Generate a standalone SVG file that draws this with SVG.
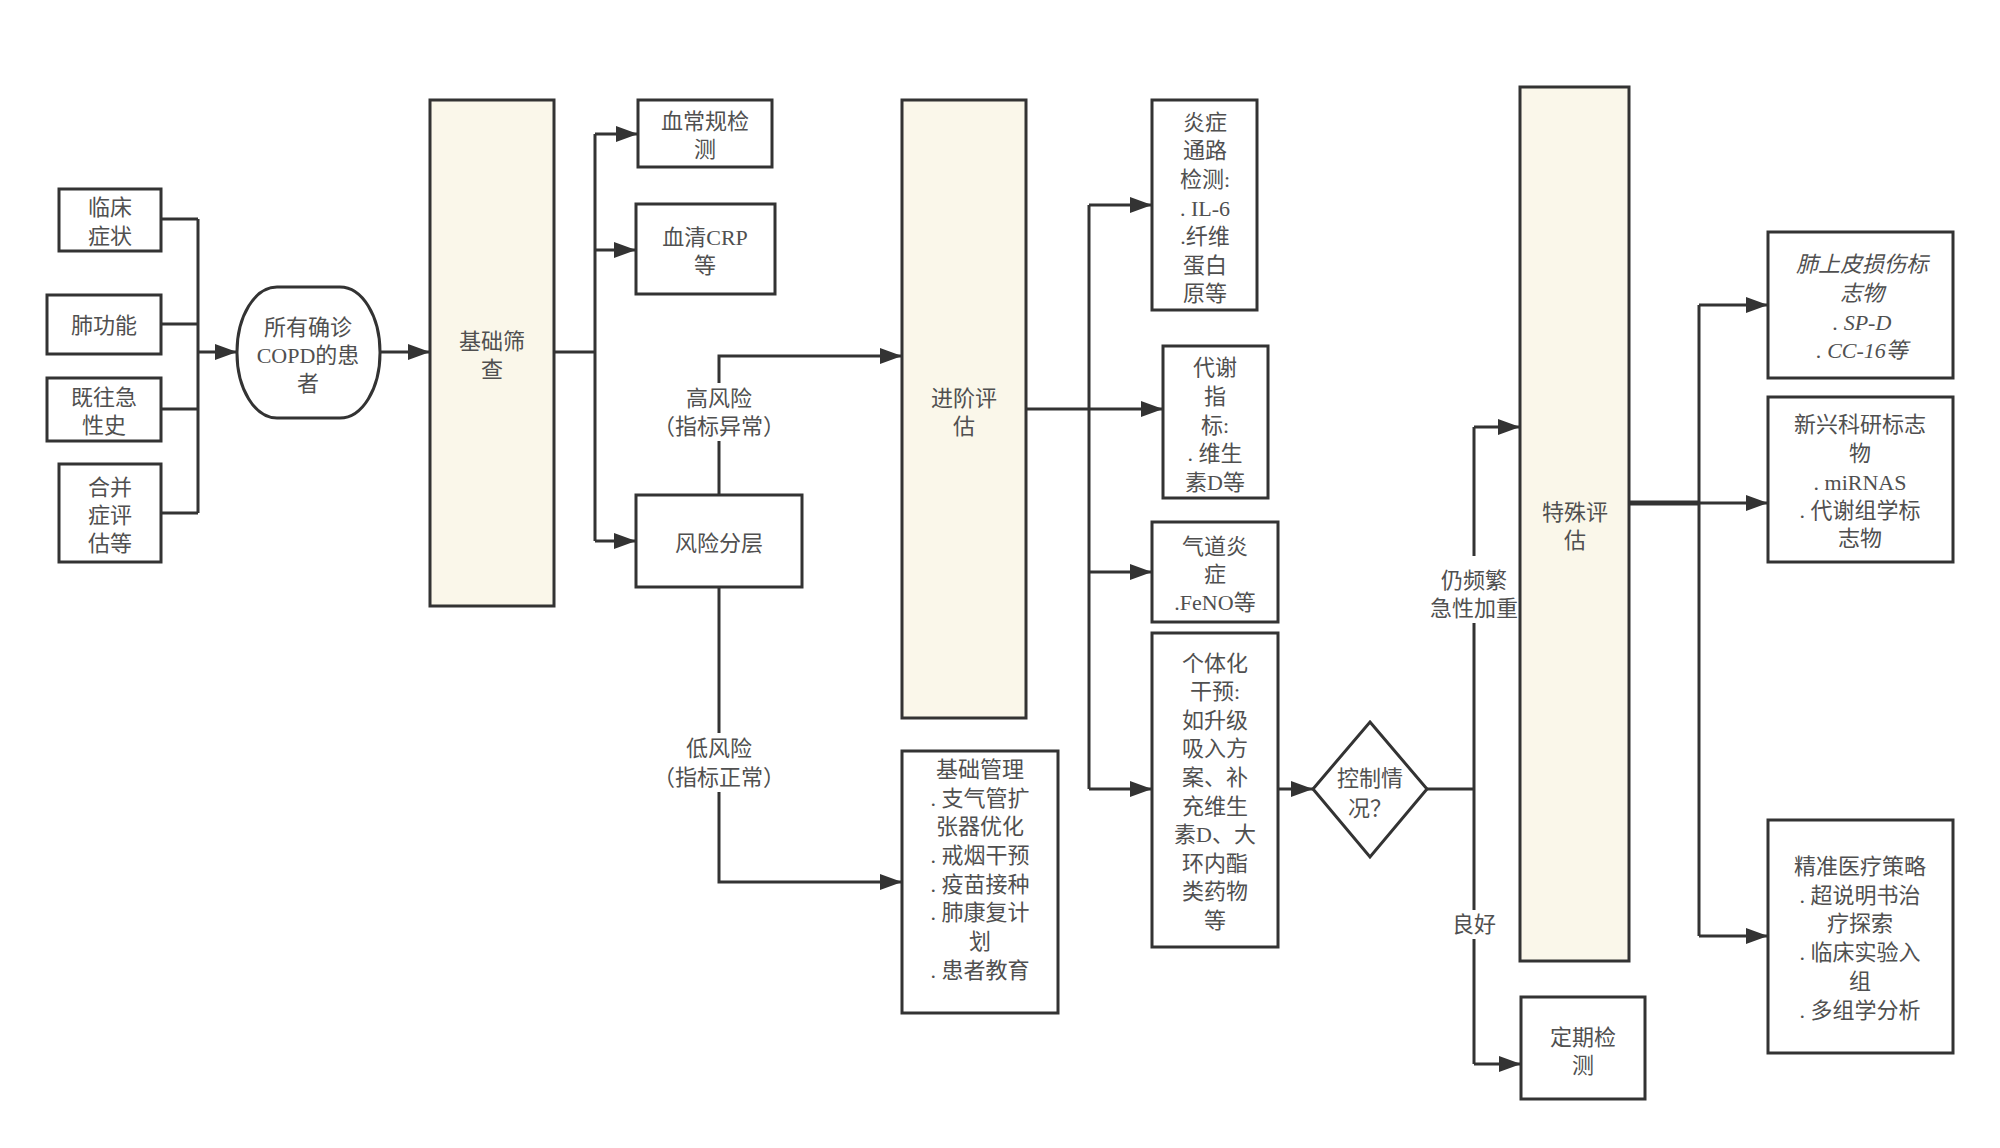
<svg xmlns="http://www.w3.org/2000/svg" width="2000" height="1148" viewBox="0 0 2000 1148">
<style>
.box{fill:#ffffff;stroke:#333333;stroke-width:3}
.bar{fill:#FAF7EA;stroke:#333333;stroke-width:3}
.ln{fill:none;stroke:#333333;stroke-width:3}
.t{font-family:"Liberation Serif","Noto Sans CJK SC",serif;font-size:22px;fill:#505050;text-anchor:middle;dominant-baseline:central}
.cjk{font-family:"Noto Sans CJK SC",sans-serif}
.it{font-style:italic}
.lbg{fill:#ffffff}
</style>
<defs>
<marker id="arr" markerWidth="22" markerHeight="16" refX="22" refY="8" orient="auto" markerUnits="userSpaceOnUse">
<path d="M0,0 L22,8 L0,16 Z" fill="#333333"/>
</marker>
</defs>
<rect width="2000" height="1148" fill="#ffffff"/>

<g id="connectors">
<path class="ln" d="M161,219 H198 M161,324 H198 M161,409 H198 M161,513 H198 M198,219 V513"/>
<path class="ln" d="M198,352 H237" marker-end="url(#arr)"/>
<path class="ln" d="M380,352 H430" marker-end="url(#arr)"/>
<path class="ln" d="M554,352 H595 M595,134 V541"/>
<path class="ln" d="M595,134 H638" marker-end="url(#arr)"/>
<path class="ln" d="M595,250 H636" marker-end="url(#arr)"/>
<path class="ln" d="M595,541 H636" marker-end="url(#arr)"/>
<path class="ln" d="M719,495 V356 H902" marker-end="url(#arr)"/>
<path class="ln" d="M719,587 V882 H902" marker-end="url(#arr)"/>
<path class="ln" d="M1026,409 H1163" marker-end="url(#arr)"/>
<path class="ln" d="M1089,205 V789"/>
<path class="ln" d="M1089,205 H1152" marker-end="url(#arr)"/>
<path class="ln" d="M1089,572 H1152" marker-end="url(#arr)"/>
<path class="ln" d="M1089,789 H1152" marker-end="url(#arr)"/>
<path class="ln" d="M1278,789 H1313" marker-end="url(#arr)"/>
<path class="ln" d="M1427,789 H1474 M1474,427 V1064"/>
<path class="ln" d="M1474,427 H1520" marker-end="url(#arr)"/>
<path class="ln" d="M1474,1064 H1521" marker-end="url(#arr)"/>
<path class="ln" d="M1629,503 H1699" style="stroke-width:5"/>
<path class="ln" d="M1699,305 V936"/>
<path class="ln" d="M1699,305 H1768" marker-end="url(#arr)"/>
<path class="ln" d="M1699,503 H1768" marker-end="url(#arr)"/>
<path class="ln" d="M1699,936 H1768" marker-end="url(#arr)"/>
<rect class="lbg" x="664" y="383" width="110" height="58"/>
<text class="t" x="719" y="398">高风险</text>
<text class="t" x="719" y="426">（指标异常）</text>
<rect class="lbg" x="664" y="733" width="110" height="59"/>
<text class="t" x="719" y="748">低风险</text>
<text class="t" x="719" y="777">（指标正常）</text>
<rect class="lbg" x="1430" y="556" width="90" height="67"/>
<text class="t" x="1474" y="580">仍频繁</text>
<text class="t" x="1474" y="608">急性加重</text>
<rect class="lbg" x="1450" y="910" width="48" height="29"/>
<text class="t" x="1474" y="924">良好</text>
</g>

<g id="n_lcsz">
<rect class="box" x="59" y="189" width="102" height="62"/>
<text class="t" x="110" y="207">临床</text>
<text class="t" x="110" y="236">症状</text>
</g>
<g id="n_fgn">
<rect class="box" x="47" y="295" width="114" height="59"/>
<text class="t" x="104" y="325">肺功能</text>
</g>
<g id="n_jwjxs">
<rect class="box" x="47" y="378" width="114" height="63"/>
<text class="t" x="104" y="397">既往急</text>
<text class="t" x="104" y="425">性史</text>
</g>
<g id="n_hbzpg">
<rect class="box" x="59" y="464" width="102" height="98"/>
<text class="t" x="110" y="487">合并</text>
<text class="t" x="110" y="515">症评</text>
<text class="t" x="110" y="543">估等</text>
</g>
<g id="n_patients">
<rect class="box" x="237" y="287" width="143" height="131" rx="40" ry="65"/>
<text class="t" x="308" y="327">所有确诊</text>
<text class="t" x="308" y="355">COPD的患</text>
<text class="t" x="308" y="383">者</text>
</g>
<g id="n_jcsc">
<rect class="bar" x="430" y="100" width="124" height="506"/>
<text class="t" x="492" y="341">基础筛</text>
<text class="t" x="492" y="369">查</text>
</g>
<g id="n_xcg">
<rect class="box" x="638" y="100" width="134" height="67"/>
<text class="t" x="705" y="121">血常规检</text>
<text class="t" x="705" y="149">测</text>
</g>
<g id="n_crp">
<rect class="box" x="636" y="204" width="139" height="90"/>
<text class="t" x="705" y="237">血清CRP</text>
<text class="t" x="705" y="265">等</text>
</g>
<g id="n_fxfc">
<rect class="box" x="636" y="495" width="166" height="92"/>
<text class="t" x="719" y="543">风险分层</text>
</g>
<g id="n_jjpg">
<rect class="bar" x="902" y="100" width="124" height="618"/>
<text class="t" x="964" y="398">进阶评</text>
<text class="t" x="964" y="426">估</text>
</g>
<g id="n_jcgl">
<rect class="box" x="902" y="751" width="156" height="262"/>
<text class="t" x="980" y="769">基础管理</text>
<text class="t" x="980" y="798">. 支气管扩</text>
<text class="t" x="980" y="826">张器优化</text>
<text class="t" x="980" y="855">. 戒烟干预</text>
<text class="t" x="980" y="884">. 疫苗接种</text>
<text class="t" x="980" y="912">. 肺康复计</text>
<text class="t" x="980" y="941">划</text>
<text class="t" x="980" y="970">. 患者教育</text>
</g>
<g id="n_yzzl">
<rect class="box" x="1152" y="100" width="105" height="210"/>
<text class="t" x="1205" y="122">炎症</text>
<text class="t" x="1205" y="150">通路</text>
<text class="t" x="1205" y="179">检测:</text>
<text class="t" x="1205" y="208">. IL-6</text>
<text class="t" x="1205" y="236">.纤维</text>
<text class="t" x="1205" y="265">蛋白</text>
<text class="t" x="1205" y="293">原等</text>
</g>
<g id="n_dxzb">
<rect class="box" x="1163" y="346" width="105" height="152"/>
<text class="t" x="1215" y="367">代谢</text>
<text class="t" x="1215" y="396">指</text>
<text class="t" x="1215" y="425">标:</text>
<text class="t" x="1215" y="453">. 维生</text>
<text class="t" x="1215" y="482">素D等</text>
</g>
<g id="n_qdyz">
<rect class="box" x="1152" y="522" width="126" height="100"/>
<text class="t" x="1215" y="546">气道炎</text>
<text class="t" x="1215" y="574">症</text>
<text class="t" x="1215" y="602">.FeNO等</text>
</g>
<g id="n_gthgy">
<rect class="box" x="1152" y="633" width="126" height="314"/>
<text class="t" x="1215" y="663">个体化</text>
<text class="t" x="1215" y="691">干预:</text>
<text class="t" x="1215" y="720">如升级</text>
<text class="t" x="1215" y="748">吸入方</text>
<text class="t" x="1215" y="777">案、补</text>
<text class="t" x="1215" y="806">充维生</text>
<text class="t" x="1215" y="834">素D、大</text>
<text class="t" x="1215" y="863">环内酯</text>
<text class="t" x="1215" y="891">类药物</text>
<text class="t" x="1215" y="920">等</text>
</g>
<g id="n_kzqk">
<path class="box" d="M1370,722 L1427,789 L1370,857 L1313,789 Z"/>
<text class="t" x="1370" y="778">控制情</text>
<text class="t cjk" x="1370" y="806">况？</text>
</g>
<g id="n_tspg">
<rect class="bar" x="1520" y="87" width="109" height="874"/>
<text class="t" x="1575" y="512">特殊评</text>
<text class="t" x="1575" y="540">估</text>
</g>
<g id="n_dqjc">
<rect class="box" x="1521" y="997" width="124" height="102"/>
<text class="t" x="1583" y="1037">定期检</text>
<text class="t" x="1583" y="1065">测</text>
</g>
<g id="n_fsp">
<rect class="box" x="1768" y="232" width="185" height="146"/>
<text class="t it" x="1862" y="264">肺上皮损伤标</text>
<text class="t it" x="1862" y="293">志物</text>
<text class="t it" x="1862" y="322">. SP-D</text>
<text class="t it" x="1862" y="350">. CC-16等</text>
</g>
<g id="n_xxky">
<rect class="box" x="1768" y="397" width="185" height="165"/>
<text class="t" x="1860" y="424">新兴科研标志</text>
<text class="t" x="1860" y="453">物</text>
<text class="t" x="1860" y="482">. miRNAS</text>
<text class="t" x="1860" y="510">. 代谢组学标</text>
<text class="t" x="1860" y="538">志物</text>
</g>
<g id="n_jzyl">
<rect class="box" x="1768" y="820" width="185" height="233"/>
<text class="t" x="1860" y="866">精准医疗策略</text>
<text class="t" x="1860" y="895">. 超说明书治</text>
<text class="t" x="1860" y="923">疗探索</text>
<text class="t" x="1860" y="952">. 临床实验入</text>
<text class="t" x="1860" y="981">组</text>
<text class="t" x="1860" y="1010">. 多组学分析</text>
</g>
</svg>
